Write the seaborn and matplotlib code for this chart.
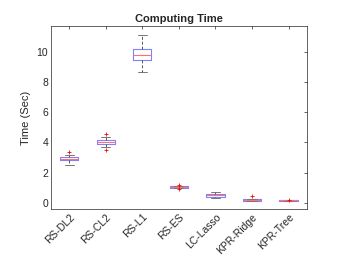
import numpy as np
import pandas as pd
import matplotlib
matplotlib.use("Agg")
import matplotlib.pyplot as plt
import seaborn as sns

# ==== data (seconds) ====
methods = ["RS-DL2", "RS-CL2", "RS-L1", "RS-ES", "LC-Lasso", "KPR-Ridge", "KPR-Tree"]
whisker_low = [2.54, 3.71, 8.68, 0.98, 0.33, 0.15, 0.14]
q1 = [2.81, 3.91, 9.45, 1.01, 0.40, 0.16, 0.15]
median = [2.91, 4.02, 9.78, 1.05, 0.50, 0.20, 0.17]
q3 = [3.03, 4.17, 10.16, 1.09, 0.60, 0.24, 0.20]
whisker_high = [3.20, 4.37, 11.10, 1.13, 0.75, 0.26, 0.22]
outlier_method = ["RS-DL2", "RS-CL2", "RS-CL2", "RS-ES", "RS-ES", "KPR-Ridge", "KPR-Tree"]
outlier_value = [3.34, 4.55, 3.51, 1.22, 0.92, 0.44, 0.19]
yticks = [0, 2, 4, 6, 8, 10]

# five-number rows per method -> seaborn boxplot with whiskers at min/max
rows = []
for i, m in enumerate(methods):
    for v in (whisker_low[i], q1[i], median[i], q3[i], whisker_high[i]):
        rows.append({"method": m, "time": v})
df = pd.DataFrame(rows)
out_df = pd.DataFrame({"method": outlier_method, "time": outlier_value})

sns.set_style("white")
plt.rcParams["font.family"] = ["Liberation Sans", "DejaVu Sans"]

fig = plt.figure(figsize=(3.46, 2.68), dpi=100)
ax = fig.add_axes([0.147, 0.22, 0.74, 0.683])

sns.boxplot(data=df, x="method", y="time", order=methods, whis=(0, 100),
            width=0.5, fill=False, showfliers=False, ax=ax,
            boxprops=dict(color="#8080ff", linewidth=0.8),
            medianprops=dict(color="#ff7070", linewidth=0.8),
            whiskerprops=dict(color="#555555", linewidth=0.7, linestyle=(0, (3, 2))),
            capprops=dict(color="#777777", linewidth=0.7))
sns.scatterplot(data=out_df, x="method", y="time", marker="+", color="red",
                s=8, linewidth=0.6, ax=ax, zorder=5)

ax.set_xlim(-0.5, 6.5)
ax.set_ylim(-0.4, 11.7)
ax.set_yticks(yticks)
ax.set_xlabel("")
ax.set_ylabel("Time (Sec)", fontsize=8)
ax.set_title("Computing Time", fontsize=8, fontweight="bold", pad=3)
ax.tick_params(direction="in", length=2.5, width=0.5, labelsize=7.5,
               top=True, right=True, color="#262626", pad=2)
plt.setp(ax.get_xticklabels(), rotation=45, ha="right", rotation_mode="anchor")
for s in ax.spines.values():
    s.set_visible(True)
    s.set_color("#262626")
    s.set_linewidth(0.5)

fig.savefig("out.png", dpi=100)
